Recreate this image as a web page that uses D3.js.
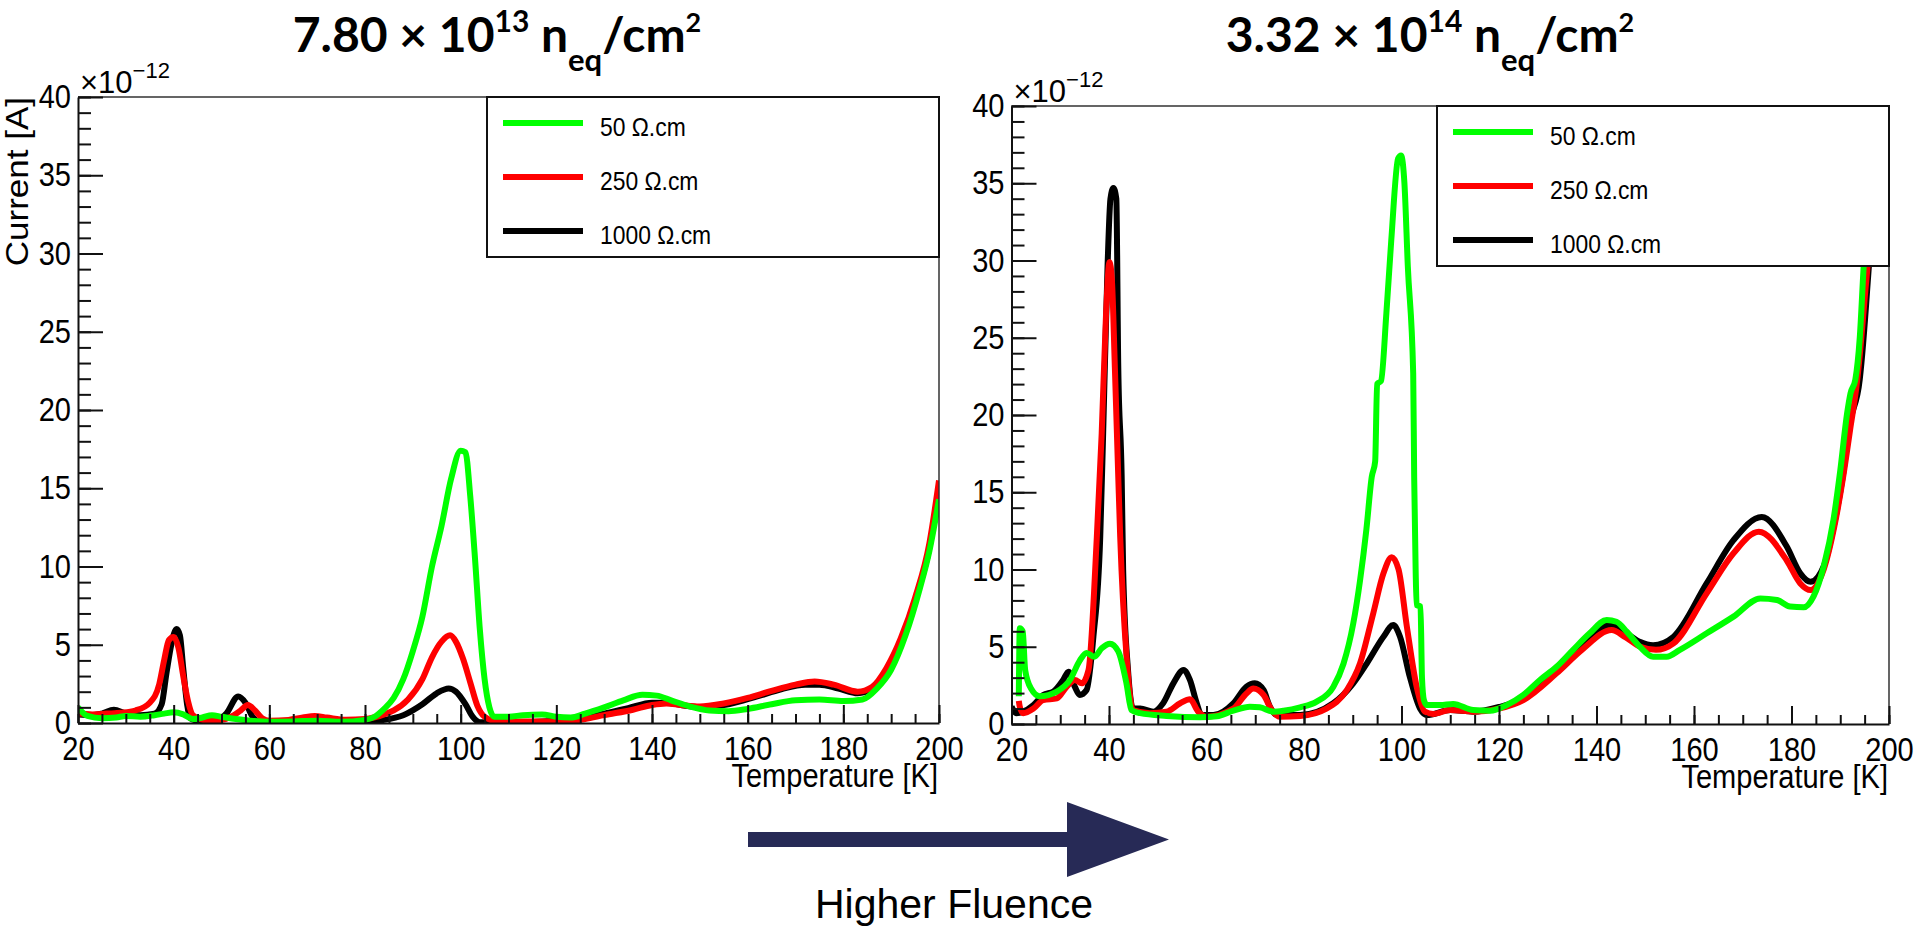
<!DOCTYPE html>
<html>
<head>
<meta charset="utf-8">
<script src="https://cdn.jsdelivr.net/npm/d3@7"></script>
<style>
  body { margin: 0; background: #fff; }
  svg text { font-family: "Liberation Sans", Arial, sans-serif; fill: #000; }
</style>
</head>
<body>
<script>
// ---- data (current in units of 1e-12 A, temperature in K) ----

// left plot: 7.80e13 neq/cm2
var lowT50 = [20,22,25,28,30,33,36,38,40,42,44,46,48,50,53,56,60,65,70,75,80,82,84,86,88,90,92,94,96,98,100,101,102,103,104,105,106,107,110,113,117,120,123,126,130,134,138,141,144,148,152,156,160,165,170,175,180,184,187,190,193,196,198,200];
var lowI50 = [1.0,0.45,0.3,0.35,0.45,0.4,0.5,0.6,0.68,0.55,0.25,0.35,0.5,0.4,0.25,0.15,0.08,0.1,0.15,0.08,0.2,0.4,0.9,1.6,2.8,4.6,6.8,10.0,12.6,15.6,17.4,17.3,14.5,10.5,6.0,2.8,1.0,0.4,0.4,0.5,0.55,0.4,0.35,0.6,1.0,1.45,1.8,1.75,1.45,1.05,0.8,0.75,0.9,1.2,1.45,1.5,1.4,1.5,2.2,3.4,5.6,8.6,11.0,14.3];

var lowT250 = [20,23,26,29,32,35,37,38,39,40,41,42,43,44,46,48,50,52,54,55.5,57,58.5,60,64,67,69.5,72,76,80,84,86,89,92,94,96,97.8,99,100.5,102,103.5,105,107,112,122,126,130,136,140,143,146,150,155,160,165,170,174,178,183,186,189,192,195,198,200];
var lowI250 = [0.6,0.55,0.6,0.65,0.8,1.3,2.5,4.0,5.3,5.5,4.8,3.0,1.4,0.5,0.2,0.15,0.2,0.4,0.8,1.15,0.8,0.3,0.15,0.2,0.35,0.45,0.35,0.2,0.25,0.55,0.8,1.5,2.8,4.2,5.2,5.6,5.2,4.1,2.6,1.1,0.4,0.15,0.1,0.1,0.25,0.5,0.85,1.15,1.25,1.15,1.05,1.25,1.6,2.05,2.45,2.65,2.45,2.0,2.3,3.5,5.4,8.0,11.5,15.5];

var lowT1000 = [20,23,25,27.5,30,33,36,37.5,38.5,39.5,40.6,41.3,42,42.8,43.5,46,49,51,53.5,55,56.5,58,62,70,80,84,88,92,95,97.5,99,101,102.5,104,110,120,126,130,135,140,143,147,151,156,162,167,172,175,179,183,186,189,192,195,198,200];
var lowI1000 = [0.55,0.5,0.6,0.85,0.6,0.5,0.6,1.2,3.2,5.0,6.0,5.6,3.5,1.2,0.3,0.1,0.15,0.6,1.7,1.3,0.4,0.1,0.05,0.05,0.1,0.2,0.5,1.2,1.9,2.2,2.0,1.2,0.4,0.05,0.05,0.15,0.35,0.6,0.95,1.3,1.3,1.1,1.0,1.2,1.7,2.15,2.45,2.45,2.2,1.9,2.2,3.3,5.2,7.8,11.2,14.8];

// right plot: 3.32e14 neq/cm2
var highT50 = [21.5,21.7,22.3,22.8,24,25.8,29.3,32,34,35.4,37,38.5,40.2,41.9,43.6,44.6,46.4,51.8,58.7,62.1,65.5,68.9,70.9,73.7,75.8,79.2,82.6,86,88.1,90.1,91.5,92.8,93.9,94.6,95,95.8,96.9,97.9,99.3,99.9,100.6,101.3,102.4,102.6,102.9,103.1,103.9,104.2,104.6,105.2,107.9,110.6,114.7,118.2,121.6,125,128.4,131.8,135.2,138.6,142.1,144.1,146.2,148.9,151.6,154.4,157.1,162.6,168.1,173.6,177,179.7,182.5,184.5,186.6,188.6,190,191.4,192.1,193.1,194,194.8,195.5,196.2,197];
var highI50 = [1.8,6.2,6.0,3.5,2.3,1.8,2.1,2.85,4.1,4.6,4.35,4.9,5.2,4.7,2.6,0.9,0.7,0.52,0.43,0.5,0.86,1.12,1.08,0.8,0.86,1.08,1.45,2.4,3.9,6.5,9.3,12.6,16.0,17,22,22.2,26.6,31.3,36.6,36.8,35,29.6,22.7,16,10,7.7,7.6,3,1.55,1.23,1.23,1.3,0.9,0.86,1.23,1.88,2.85,3.7,4.8,5.87,6.73,6.62,5.98,5.0,4.36,4.36,4.8,5.87,6.95,8.13,8.03,7.6,7.55,8.24,10.2,13.2,16.4,20.1,21.4,22.3,25,29.6,33,40,48];

var highT250 = [21.5,21.7,22.4,24.5,26.5,29.3,31.3,33,34.4,35.8,37.5,38.5,39.4,40.1,40.6,41.2,41.9,42.3,43.6,44.9,48.4,51.8,54.6,56.6,58.3,60,65.5,68.2,69.6,71.7,73.4,75.1,79.2,84.6,88.8,91.5,94.2,96.3,98,99.4,101.1,103.1,104.8,106.5,110,114.7,120,125,131.8,137,143.1,146,149,152.2,155.8,162.6,168.1,173.3,179,181.8,183.9,186.6,188.8,190.5,192,193.5,195,196.3,197.3];
var highI250 = [1.5,1.12,0.7,1.0,1.55,1.66,2.4,2.85,2.63,3.5,12.1,18.8,26.6,29.9,28.7,23.1,16,12.1,4.36,0.9,0.7,0.8,1.34,1.6,0.8,0.47,1.0,1.98,2.3,1.88,0.9,0.47,0.52,1.0,2.2,3.93,7.16,9.75,10.8,10.0,6.3,2.42,0.8,0.65,0.9,0.8,1.0,1.55,3.28,4.8,6.08,5.6,5.0,4.8,5.22,8.46,11.05,12.45,10.6,9.1,8.67,10.0,12.8,15.8,19,22.3,27.5,33,42];

var highT1000 = [20,21,22.4,24.5,26.5,28.6,30.6,31.7,33,34,35.4,36.8,38.2,38.8,39.7,40.3,40.9,41.5,41.9,42.6,42.9,43.9,44.9,46.4,49.1,51.1,53.2,55.3,56.6,58,59,61.4,65.5,68.2,69.9,71.7,73,74.4,79.2,86,90.1,92.9,96.3,98.3,99.7,101.7,103.8,105.2,110,114.7,120,125,131.8,137,142.7,146,149,151.6,155.8,162.6,168.1,173.9,179,181.8,183.9,186.6,188.8,190.5,192,194,195.5,196.5,197.5];
var highI1000 = [1.12,0.7,0.8,1.23,1.88,2.1,2.85,3.39,2.4,1.88,2.2,5.65,12.1,18.8,29.6,34,34.7,34,23.1,16,10,3.5,1.0,1.0,0.8,1.34,2.63,3.5,2.85,1.34,0.58,0.58,1.34,2.42,2.63,2.2,1.12,0.58,0.58,1.34,2.63,3.93,5.65,6.4,5.65,3.06,1.0,0.58,0.9,0.8,1.1,1.66,3.5,5.0,6.4,5.9,5.3,5.1,5.65,9.1,11.9,13.4,11.5,9.75,9.2,10.2,13,16,19.5,22.3,28,33,42];

var seriesNames = ['50 \u03A9.cm', '250 \u03A9.cm', '1000 \u03A9.cm'];
var seriesColors = ['#00ff00', '#ff0000', '#000000'];

var xTicks = [20, 40, 60, 80, 100, 120, 140, 160, 180, 200];
var yTicks = [0, 5, 10, 15, 20, 25, 30, 35, 40];

var titleLeft = ['7.80 \u00D7 10', '13', ' n', 'eq', '/cm', '2'];
var titleRight = ['3.32 \u00D7 10', '14', ' n', 'eq', '/cm', '2'];

// ---- drawing ----
var width = 1917,
    height = 929;

// the ROOT pictures were squeezed sideways a little, text included
var squeeze = 0.88;

var svg = d3.select('body')
  .append('svg')
  .attr('width', width)
  .attr('height', height);

function drawPanel(p) {
  var x = d3.scaleLinear().domain([20, 200]).range([p.left, p.right]);
  var y = d3.scaleLinear().domain([0, 40]).range([p.bottom, p.top]);

  var g = svg.append('g');

  g.append('clipPath')
    .attr('id', 'clip' + p.id)
    .append('rect')
    .attr('x', p.left)
    .attr('y', p.top)
    .attr('width', p.right - p.left)
    .attr('height', p.bottom - p.top);

  // curves, black first so green ends on top
  var line = d3.line()
    .x(function(d) { return x(d[0]); })
    .y(function(d) { return y(d[1]); })
    .curve(d3.curveMonotoneX);

  var curves = g.append('g').attr('clip-path', 'url(#clip' + p.id + ')');
  [2, 1, 0].forEach(function(i) {
    curves.append('path')
      .datum(d3.zip(p.temps[i], p.currents[i]))
      .attr('d', line)
      .attr('fill', 'none')
      .attr('stroke', seriesColors[i])
      .attr('stroke-width', 6)
      .attr('stroke-linejoin', 'round');
  });

  // top and right sides of the frame
  g.append('path')
    .attr('d', 'M' + p.left + ',' + p.top + 'H' + p.right + 'V' + p.bottom)
    .attr('fill', 'none')
    .attr('stroke', '#333')
    .attr('stroke-width', 1.5);

  // x axis, ticks pointing into the frame
  var xMinor = g.append('g')
    .attr('transform', 'translate(0,' + p.bottom + ')')
    .call(d3.axisBottom(x).tickValues(d3.range(20, 201, 5)).tickSize(-9).tickFormat(''));
  xMinor.select('.domain').remove();

  var xAxis = g.append('g')
    .attr('transform', 'translate(0,' + p.bottom + ')')
    .call(d3.axisBottom(x).tickValues(xTicks).tickSize(-18).tickPadding(14).tickSizeOuter(0));

  // y axis
  var yMinor = g.append('g')
    .attr('transform', 'translate(' + p.left + ',0)')
    .call(d3.axisLeft(y).tickValues(d3.range(0, 41, 1)).tickSize(-13).tickFormat(''));
  yMinor.select('.domain').remove();

  var yAxis = g.append('g')
    .attr('transform', 'translate(' + p.left + ',0)')
    .call(d3.axisLeft(y).tickValues(yTicks).tickSize(-25).tickPadding(8).tickSizeOuter(0));

  g.selectAll('.tick line').attr('stroke', '#111').attr('stroke-width', 2);
  g.selectAll('.domain').attr('stroke', '#111').attr('stroke-width', 2);
  [xAxis, yAxis].forEach(function(a) {
    a.attr('font-family', null).attr('font-size', null);
    a.selectAll('text')
      .style('font-size', '33px')
      .attr('transform', 'scale(' + squeeze + ',1)');
  });

  // exponent over the y axis
  var expo = g.append('text')
    .attr('x', p.left + 2)
    .attr('y', p.top - 4)
    .style('font-size', '31px');
  expo.append('tspan').text('\u00D710');
  expo.append('tspan').attr('dy', -15).style('font-size', '22px').text('\u221212');

  // x axis title
  g.append('text')
    .attr('transform', 'translate(' + (p.right - 1) + ',' + (p.bottom + 64) + ') scale(' + squeeze + ',1)')
    .attr('text-anchor', 'end')
    .style('font-size', '33px')
    .text('Temperature [K]');

  if (p.yTitle) {
    g.append('text')
      .attr('transform', 'translate(28,' + p.top + ') scale(' + squeeze + ',1) rotate(-90)')
      .attr('text-anchor', 'end')
      .style('font-size', '35px')
      .text(p.yTitle);
  }

  // legend
  var lw = 452, lh = 160;
  var leg = g.append('g').attr('transform', 'translate(' + (p.right - lw) + ',' + p.top + ')');
  leg.append('rect')
    .attr('width', lw)
    .attr('height', lh)
    .attr('fill', '#fff')
    .attr('stroke', '#111')
    .attr('stroke-width', 2);
  seriesNames.forEach(function(name, i) {
    var ly = 26 + i * 54;
    leg.append('line')
      .attr('x1', 16).attr('x2', 96)
      .attr('y1', ly).attr('y2', ly)
      .attr('stroke', seriesColors[i])
      .attr('stroke-width', 6);
    leg.append('text')
      .attr('transform', 'translate(113,' + (ly + 13) + ') scale(' + squeeze + ',1)')
      .style('font-size', '26px')
      .text(name);
  });
}

function drawTitle(cx, parts) {
  var t = svg.append('text')
    .attr('x', cx)
    .attr('y', 52)
    .attr('text-anchor', 'middle')
    .style('font-family', 'Lato, "Open Sans", sans-serif')
    .style('font-weight', 'bold')
    .style('font-size', '48px');
  t.append('tspan').text(parts[0]);
  t.append('tspan').attr('dy', -20).style('font-size', '30px').text(parts[1]);
  t.append('tspan').attr('dy', 20).text(parts[2]);
  t.append('tspan').attr('dy', 19).style('font-size', '31px').text(parts[3]);
  t.append('tspan').attr('dy', -19).text(parts[4]);
  t.append('tspan').attr('dy', -20).style('font-size', '27px').text(parts[5]);
}

drawPanel({
  id: 'low',
  left: 78, right: 939, top: 97, bottom: 723,
  temps: [lowT50, lowT250, lowT1000],
  currents: [lowI50, lowI250, lowI1000],
  yTitle: 'Current [A]'
});

drawPanel({
  id: 'high',
  left: 1011.5, right: 1889, top: 106, bottom: 724,
  temps: [highT50, highT250, highT1000],
  currents: [highI50, highI250, highI1000],
  yTitle: null
});

drawTitle(497, titleLeft);
drawTitle(1430, titleRight);

// arrow between the plots
svg.append('path')
  .attr('d', 'M748,832H1067V802L1169,839.5L1067,877V847H748Z')
  .attr('fill', '#272a56');

svg.append('text')
  .attr('x', 954)
  .attr('y', 918)
  .attr('text-anchor', 'middle')
  .style('font-size', '41px')
  .text('Higher Fluence');
</script>
</body>
</html>
